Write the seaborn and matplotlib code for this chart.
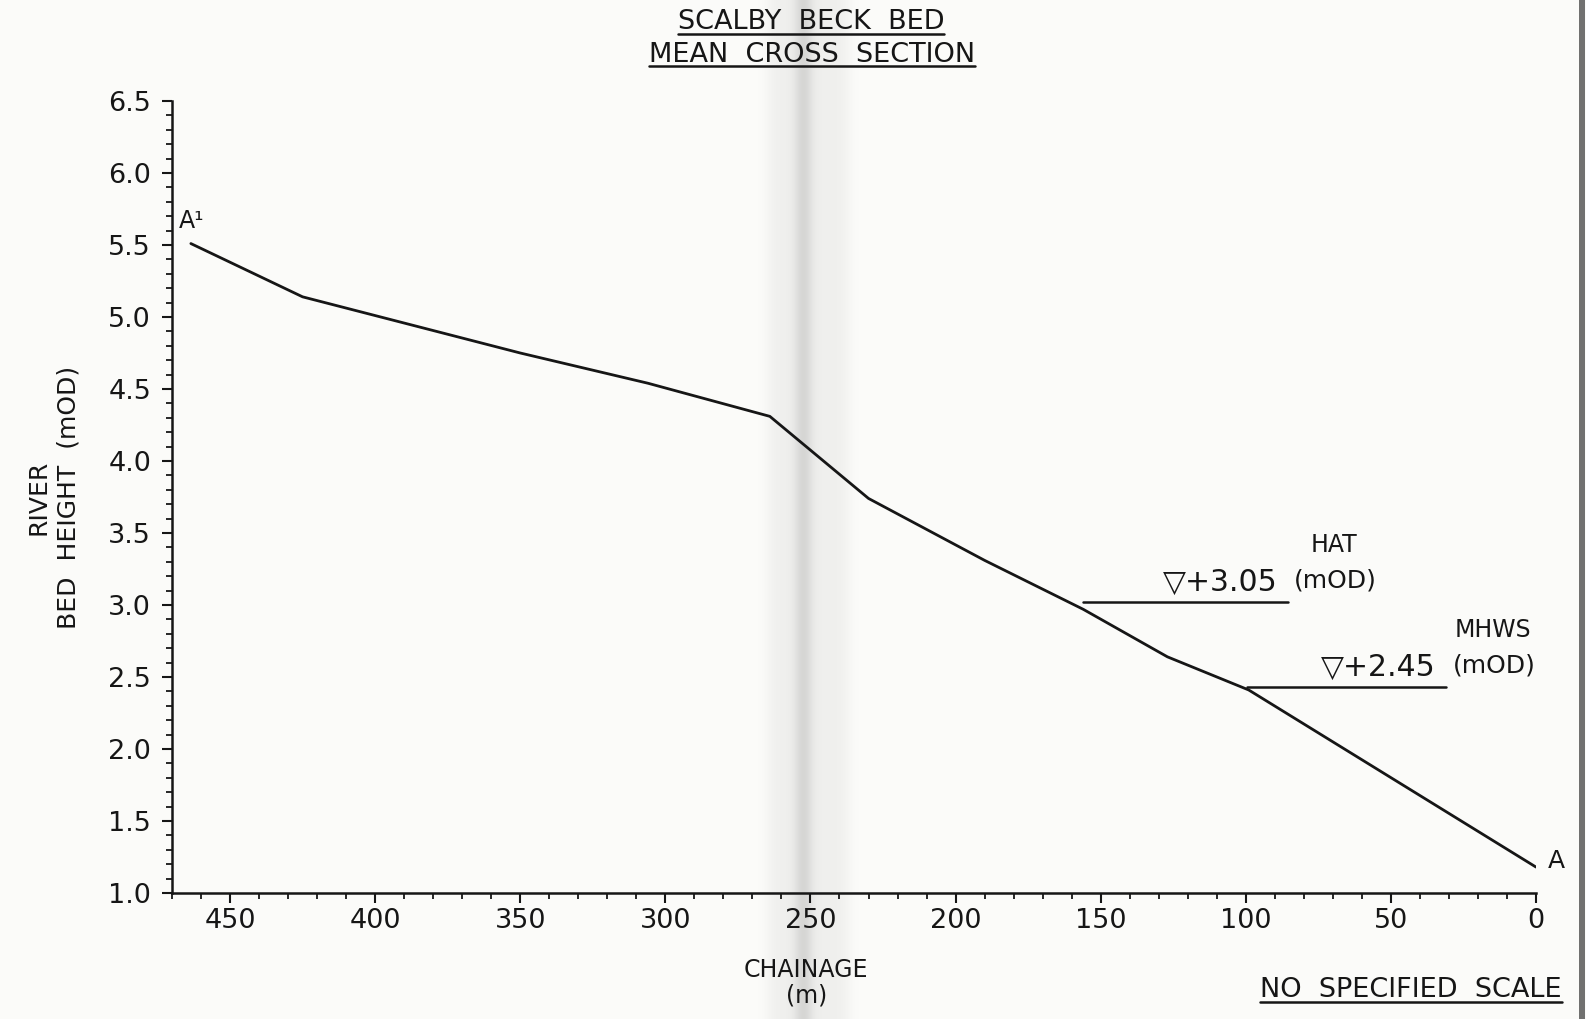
import numpy as np
import matplotlib
matplotlib.use("Agg")
import matplotlib.pyplot as plt
import seaborn as sns
from matplotlib.lines import Line2D
from matplotlib.ticker import MultipleLocator, FormatStrFormatter

# ---------------- data ----------------
chainage = [463.5, 425, 350, 306, 264, 230, 190, 156, 127, 99, 0]
bed_height = [5.51, 5.14, 4.75, 4.54, 4.31, 3.74, 3.31, 2.97, 2.64, 2.41, 1.18]

tide_names = ["HAT", "MHWS"]
tide_labels = ["\u25BD+3.05", "\u25BD+2.45"]
tide_level_drawn = [3.02, 2.43]
tide_x_start = [156, 99.5]
tide_x_end = [85.6, 31.0]

x_ticks = [450, 400, 350, 300, 250, 200, 150, 100, 50, 0]
y_ticks = [1.0, 1.5, 2.0, 2.5, 3.0, 3.5, 4.0, 4.5, 5.0, 5.5, 6.0, 6.5]

# ---------------- figure ----------------
sns.set_theme(style="white")
plt.rcParams["font.family"] = ["DejaVu Sans"]
W, H = 1586, 1019
fig = plt.figure(figsize=(W / 100, H / 100), dpi=100)
paper = np.array([0.988, 0.988, 0.980])
fig.patch.set_facecolor(paper)

# scanned-paper background (fold shadow + right edge)
bg = fig.add_axes([0, 0, 1, 1], zorder=-5)
xs = np.arange(W)
fac = np.ones(W)
plateau = 1 / (1 + np.exp(-(xs - 768) / 4)) * 1 / (1 + np.exp((xs - 848) / 4))
fac -= 0.05 * plateau
fac -= 0.10 * np.exp(-((xs - 803) / 9.0) ** 2)
fac[1579:1585] = 0.45
img = np.clip(fac[None, :, None] * paper[None, None, :], 0, 1)
bg.imshow(np.repeat(img, 4, axis=0), aspect="auto", extent=[0, 1, 0, 1])
bg.set_axis_off()

ink = "#161616"
ax = fig.add_axes([172 / W, 1 - 893 / H, (1536 - 172) / W, (893 - 101) / H])
ax.set_facecolor("none")
sns.lineplot(x=chainage, y=bed_height, sort=False, color=ink, lw=2.0, ax=ax)

for name, lab, yv, x0, x1 in zip(tide_names, tide_labels, tide_level_drawn,
                                 tide_x_start, tide_x_end):
    sns.lineplot(x=[x0, x1], y=[yv, yv], color=ink, lw=1.8, ax=ax)
    ax.text(x1 + 3.5, yv + 0.075, lab, ha="right", va="baseline", fontsize=21.5, color=ink)
    ax.text(x1 - 2.3, yv + 0.10, "(mOD)", ha="left", va="baseline",
            fontsize=18, color=ink, clip_on=False)
    ax.text(x1 - 16.0, yv + 0.345, name, ha="center", va="baseline",
            fontsize=17, color=ink, clip_on=False)

ax.text(chainage[0] + 4, bed_height[0] + 0.07, "A\u00B9", ha="left", va="bottom",
        fontsize=17, color=ink)
ax.text(chainage[-1] - 4, bed_height[-1] - 0.04, "A", ha="left", va="bottom",
        fontsize=18, color=ink, clip_on=False)

ax.set_xlim(470, 0)
ax.set_ylim(1.0, 6.5)
ax.set_xticks(x_ticks)
ax.set_yticks(y_ticks)
ax.xaxis.set_minor_locator(MultipleLocator(10))
ax.yaxis.set_minor_locator(MultipleLocator(0.1))
ax.yaxis.set_major_formatter(FormatStrFormatter("%.1f"))
ax.tick_params(axis="both", which="major", direction="out", length=7, width=1.5,
               labelsize=19.5, color=ink, labelcolor=ink)
ax.tick_params(axis="x", which="major", pad=4)
ax.tick_params(axis="y", which="major", pad=8)
ax.tick_params(axis="both", which="minor", direction="out", length=4, width=1.3,
               color=ink)
ax.tick_params(bottom=True, left=True, which="both")
for s in ["top", "right"]:
    ax.spines[s].set_visible(False)
for s in ["left", "bottom"]:
    ax.spines[s].set_color(ink)
    ax.spines[s].set_linewidth(1.8)
ax.set_xlabel("")
ax.set_ylabel("")
ax.grid(False)

# texts in figure pixel coordinates
def ftext(x, y, s, **kw):
    return fig.text(x / W, 1 - y / H, s, color=ink, **kw)

t1 = ftext(811, 29, "SCALBY  BECK  BED", ha="center", va="baseline", fontsize=19.5)
t2 = ftext(812, 62, "MEAN  CROSS  SECTION", ha="center", va="baseline", fontsize=19.5)
t3 = ftext(1562, 997, "NO  SPECIFIED  SCALE", ha="right", va="baseline", fontsize=19.5)
ftext(806, 977, "CHAINAGE", ha="center", va="baseline", fontsize=17)
ftext(807, 1003, "(m)", ha="center", va="baseline", fontsize=17)
ftext(39, 497, "RIVER", ha="center", va="center", rotation=90, fontsize=18)
ftext(69, 497, "BED  HEIGHT  (mOD)", ha="center", va="center", rotation=90, fontsize=18)

fig.canvas.draw()
r = fig.canvas.get_renderer()
for t, uy in [(t1, 34), (t2, 66), (t3, 1002)]:
    bb = t.get_window_extent(r)
    fig.add_artist(Line2D([bb.x0 / W, bb.x1 / W], [1 - uy / H, 1 - uy / H],
                          transform=fig.transFigure, color=ink, lw=1.8))

fig.savefig("out.png", dpi=100, facecolor=fig.get_facecolor())
